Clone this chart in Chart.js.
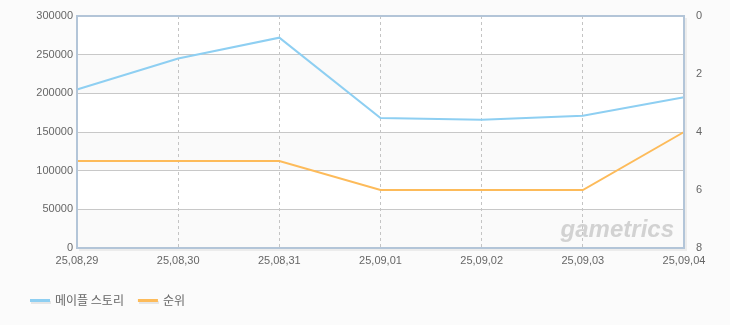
<!DOCTYPE html>
<html><head><meta charset="utf-8">
<script src="https://cdn.jsdelivr.net/npm/chart.js@4"></script>
<style>html,body{margin:0;padding:0;background:#fbfbfb;}#wrap{width:730px;height:325px;}</style>
</head><body><div id="wrap"><canvas id="c" width="730" height="325"></canvas></div>
<script>
const categories = ["25,08,29","25,08,30","25,08,31","25,09,01","25,09,02","25,09,03","25,09,04"];
const seriesNames = ["메이플 스토리","순위"];
const users = [205000,245000,272000,168000,166000,171000,195000];
const rank = [5,5,5,6,6,6,4];
const leftTicks = [0,50000,100000,150000,200000,250000,300000];
const rightTicks = [0,2,4,6,8];
const colors = ["#8ecff2","#fdbb5a"];
const tickFont = {family:'"Liberation Sans", Arial, sans-serif',size:11};

const bgPlugin = {
  id:'bg',
  beforeDraw(chart){
    const {ctx, chartArea:a, scales} = chart;
    ctx.save();
    ctx.fillStyle='#fbfbfb';
    ctx.fillRect(0,0,chart.width,chart.height);
    const y = scales.y;
    for(let i=0;i<leftTicks.length-1;i++){
      const y0 = y.getPixelForValue(leftTicks[i]);
      const y1 = y.getPixelForValue(leftTicks[i+1]);
      ctx.fillStyle = (i%2===0)?'#fafafa':'#ffffff';
      ctx.fillRect(a.left,y1,a.right-a.left,y0-y1);
    }
    ctx.restore();
  },
  beforeDatasetsDraw(chart){
    const {ctx, chartArea:a} = chart;
    ctx.save();
    ctx.font='italic bold 24px "Liberation Sans", Arial, sans-serif';
    ctx.fillStyle='rgba(200,200,200,0.8)';
    ctx.textAlign='right';
    ctx.textBaseline='alphabetic';
    ctx.fillText('gametrics', a.right-10, a.bottom-11);
    ctx.restore();
  },
  afterDraw(chart){
    const {ctx, chartArea:a} = chart;
    ctx.save();
    ctx.strokeStyle='rgba(0,0,0,0.06)';
    ctx.lineWidth=2;
    ctx.beginPath();
    ctx.moveTo(a.left+2,a.bottom+2);ctx.lineTo(a.right+2,a.bottom+2);ctx.lineTo(a.right+2,a.top+2);
    ctx.stroke();
    ctx.strokeStyle='#b3c5d8';
    ctx.lineWidth=2;
    ctx.strokeRect(a.left,a.top,a.right-a.left,a.bottom-a.top);
    ctx.font='12px "Noto Sans CJK KR", sans-serif';
    ctx.textBaseline='middle';
    ctx.textAlign='left';
    let x=30; const ly=300;
    seriesNames.forEach((n,i)=>{
      ctx.fillStyle='#e6e6e6';
      ctx.fillRect(x+1,ly+1,20,3);
      ctx.fillStyle=colors[i];
      ctx.fillRect(x,ly-1,20,3);
      ctx.fillStyle='#666';
      ctx.fillText(n,x+25,ly);
      x += 25 + ctx.measureText(n).width + 14;
    });
    ctx.restore();
  }
};

new Chart(document.getElementById('c'),{
  type:'line',
  data:{
    labels:categories,
    datasets:[
      {label:seriesNames[0],data:users,yAxisID:'y',borderColor:colors[0],borderWidth:2,pointRadius:0,tension:0,fill:false},
      {label:seriesNames[1],data:rank,yAxisID:'y2',borderColor:colors[1],borderWidth:2,pointRadius:0,tension:0,fill:false}
    ]
  },
  options:{
    responsive:false,animation:false,
    layout:{padding:{top:16,left:0,right:0,bottom:0}},
    plugins:{legend:{display:false},tooltip:{enabled:false}},
    scales:{
      x:{
        offset:false,
        grid:{color:'#c4c4c4',drawTicks:false},
        border:{display:false,dash:[3,3]},
        ticks:{color:'#666',font:tickFont,padding:6,maxRotation:0,autoSkip:false},
        afterFit(s){s.height=77;}
      },
      y:{
        position:'left',min:0,max:300000,
        afterBuildTicks(s){s.ticks=leftTicks.map(v=>({value:v}));},
        grid:{color:'#c8c8c8',drawTicks:false},
        border:{display:false},
        ticks:{color:'#666',font:tickFont,padding:4,callback:v=>String(v)},
        afterFit(s){s.width=77;}
      },
      y2:{
        position:'right',min:0,max:8,reverse:true,
        afterBuildTicks(s){s.ticks=rightTicks.map(v=>({value:v}));},
        grid:{display:false},
        border:{display:false},
        ticks:{color:'#666',font:tickFont,padding:4,callback:v=>String(v)},
        afterFit(s){s.width=46;}
      }
    }
  },
  plugins:[bgPlugin]
});
</script></body></html>
